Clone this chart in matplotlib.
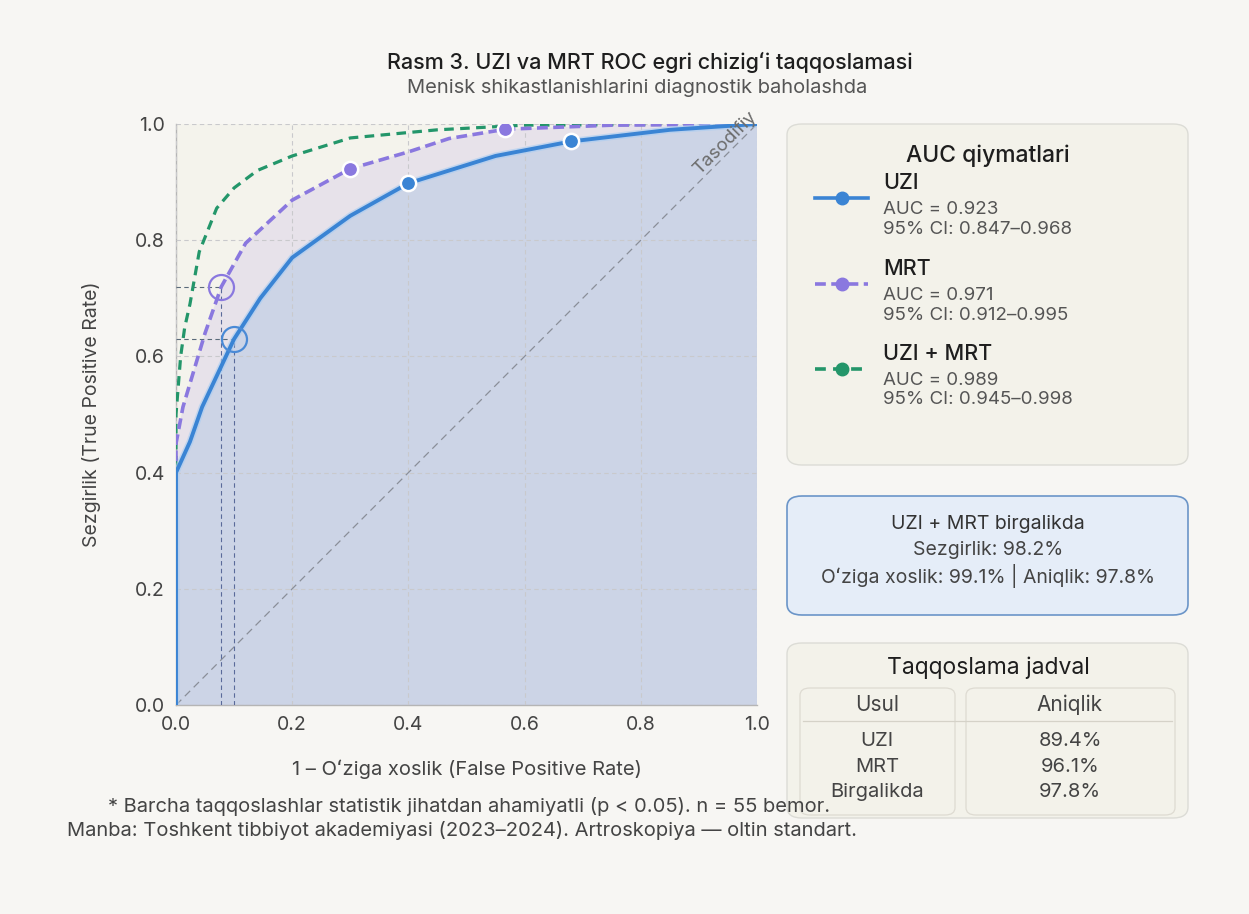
import numpy as np
import matplotlib
matplotlib.use("Agg")
import matplotlib.pyplot as plt
from matplotlib.patches import FancyBboxPatch
from matplotlib.lines import Line2D

plt.rcParams['font.family'] = ['Inter', 'DejaVu Sans']

# ROC egri chiziqlari (rasmdan o'qilgan qiymatlar)
uzi_fpr = [0, 0, 0.024, 0.045, 0.10, 0.145, 0.20, 0.30, 0.40, 0.55, 0.68, 0.85, 1.0]
uzi_tpr = [0, 0.40, 0.453, 0.513, 0.63, 0.70, 0.77, 0.842, 0.898, 0.945, 0.97, 0.99, 1.0]
mrt_fpr = [0, 0, 0.012, 0.05, 0.078, 0.12, 0.20, 0.30, 0.40, 0.47, 0.567, 0.75, 1.0]
mrt_tpr = [0, 0.45, 0.513, 0.64, 0.72, 0.795, 0.869, 0.923, 0.952, 0.975, 0.991, 0.998, 1.0]
comb_fpr = [0, 0, 0.008, 0.015, 0.024, 0.04, 0.07, 0.10, 0.14, 0.20, 0.30, 0.45, 0.60, 1.0]
comb_tpr = [0, 0.50, 0.60, 0.65, 0.69, 0.78, 0.855, 0.89, 0.92, 0.945, 0.976, 0.99, 0.998, 1.0]

# belgilangan nuqtalar
uzi_mark_x = [0.40, 0.68]
uzi_mark_y = [0.898, 0.97]
mrt_mark_x = [0.30, 0.567]
mrt_mark_y = [0.923, 0.991]
# optimal kesish nuqtalari
uzi_opt = (0.10, 0.63)
mrt_opt = (0.078, 0.72)

series = [
    ("UZI", "0.923", "0.847\u20130.968", "#3a84d4", "-"),
    ("MRT", "0.971", "0.912\u20130.995", "#8a78df", (0, (3, 1.5))),
    ("UZI + MRT", "0.989", "0.945\u20130.998", "#23966a", (0, (3, 2))),
]

table_methods = ["UZI", "MRT", "Birgalikda"]
table_acc = ["89.4%", "96.1%", "97.8%"]

W, H = 1249, 914
fig = plt.figure(figsize=(W / 100, H / 100), dpi=100, facecolor="#f7f6f3")

def fx(px):
    return px / W

def fy(py):
    return 1 - py / H

ax = fig.add_axes([fx(176), fy(705), fx(757) - fx(176), fy(124) - fy(705)])
ax.set_facecolor("#f4f3ec")

# to'ldirilgan sohalar
ax.fill(uzi_fpr + [1.0, 0.0], uzi_tpr + [0.0, 0.0], color="#ccd4e6", zorder=1, lw=0)
ax.fill(mrt_fpr + uzi_fpr[::-1], mrt_tpr + uzi_tpr[::-1], color="#e7e2ea", zorder=1, lw=0)

ax.grid(True, ls=(0, (4, 3)), color="#c9c9cc", lw=0.8, zorder=2)
ax.set_axisbelow(False)

# tasodifiy chiziq
ax.plot([0, 1], [0, 1], ls=(0, (6, 4)), color="#8a8f99", lw=0.9, zorder=3)
ax.text(0.945, 0.968, "Tasodifiy", rotation=45, ha="center", va="center",
        fontsize=13.5, color="#6d6d6d", clip_on=False, zorder=6)

# optimal nuqtalar uchun yordamchi chiziqlar
for (ox, oy) in [uzi_opt, mrt_opt]:
    ax.plot([ox, ox], [0, oy], ls=(0, (4, 3)), color="#5a6a9a", lw=0.8, zorder=3)
    ax.plot([0, ox], [oy, oy], ls=(0, (4, 3)), color="#5a6a7a", lw=0.8, zorder=3)

ax.plot(comb_fpr, comb_tpr, color=series[2][3], ls=series[2][4], lw=2.3, zorder=4)
ax.plot(mrt_fpr, mrt_tpr, color=series[1][3], ls=series[1][4], lw=2.6, zorder=4)
ax.plot(uzi_fpr, uzi_tpr, color="#a9cdf2", lw=5, alpha=0.6, zorder=4)
ax.plot(uzi_fpr, uzi_tpr, color=series[0][3], lw=2.8, zorder=4)

ax.plot(uzi_mark_x, uzi_mark_y, "o", ms=11, mfc=series[0][3], mec="white", mew=1.8, zorder=5)
ax.plot(mrt_mark_x, mrt_mark_y, "o", ms=11, mfc=series[1][3], mec="white", mew=1.8, zorder=5)
ax.plot(*uzi_opt, "o", ms=18, mfc="none", mec="#4a8ad6", mew=1.6, zorder=5)
ax.plot(*mrt_opt, "o", ms=18, mfc="none", mec="#8a78df", mew=1.6, zorder=5)

ax.set_xlim(0, 1)
ax.set_ylim(0, 1)
ticks = [0, 0.2, 0.4, 0.6, 0.8, 1.0]
ax.set_xticks(ticks)
ax.set_yticks(ticks)
ax.set_xticklabels([f"{t:.1f}" for t in ticks])
ax.set_yticklabels([f"{t:.1f}" for t in ticks])
ax.tick_params(labelsize=14, colors="#444444", length=0, pad=8)
for s in ["top", "right"]:
    ax.spines[s].set_visible(False)
for s in ["left", "bottom"]:
    ax.spines[s].set_color("#b5b5b5")
    ax.spines[s].set_linewidth(1.0)

ax.set_xlabel("1 \u2013 O\u02bbziga xoslik (False Positive Rate)", fontsize=14.5,
              color="#444444", labelpad=18)
ax.set_ylabel("Sezgirlik (True Positive Rate)", fontsize=14, color="#444444", labelpad=24)

# sarlavha
fig.text(fx(650), fy(62), "Rasm 3. UZI va MRT ROC egri chizig\u02bbi taqqoslamasi",
         ha="center", va="center", fontsize=15.5, color="#1e1e1e", fontweight="medium")
fig.text(fx(637), fy(88), "Menisk shikastlanishlarini diagnostik baholashda",
         ha="center", va="center", fontsize=14.5, color="#555555")

# izohlar
fig.text(fx(469), fy(807),
         "* Barcha taqqoslashlar statistik jihatdan ahamiyatli (p < 0.05). n = 55 bemor.",
         ha="center", va="center", fontsize=14.5, color="#444444")
fig.text(fx(462), fy(831),
         "Manba: Toshkent tibbiyot akademiyasi (2023\u20132024). Artroskopiya \u2014 oltin standart.",
         ha="center", va="center", fontsize=14.5, color="#444444")

def panel(x0, y0, x1, y1, fc, ec, lw=1.0):
    p = FancyBboxPatch((fx(x0), fy(y1)), fx(x1) - fx(x0), fy(y0) - fy(y1),
                       boxstyle="round,pad=0,rounding_size=0.012",
                       transform=fig.transFigure, fc=fc, ec=ec, lw=lw, zorder=0)
    fig.add_artist(p)

# AUC paneli
panel(787, 124, 1188, 465, "#f3f2ea", "#dcdcd6")
fig.text(fx(988), fy(156), "AUC qiymatlari", ha="center", va="center",
         fontsize=16.5, color="#1e1e1e", fontweight="medium")
rows_y = [198, 284, 369]
for (name, auc, ci, col, ls), ry in zip(series, rows_y):
    fig.add_artist(Line2D([fx(815), fx(868)], [fy(ry), fy(ry)], color=col, ls=ls,
                          lw=2.6, transform=fig.transFigure))
    fig.add_artist(Line2D([fx(842)], [fy(ry)], marker="o", ms=9, mfc=col, mec=col,
                          transform=fig.transFigure))
    fig.text(fx(883), fy(ry - 15), name, ha="left", va="center", fontsize=15.5,
             color="#1e1e1e", fontweight="medium")
    fig.text(fx(883), fy(ry + 12), f"AUC = {auc}", ha="left", va="center",
             fontsize=13.5, color="#555555")
    fig.text(fx(883), fy(ry + 31), f"95% CI: {ci}", ha="left", va="center",
             fontsize=13.5, color="#555555")

# birgalikda paneli
panel(787, 496, 1188, 615, "#e5edf8", "#6b95c8", lw=1.2)
fig.text(fx(988), fy(524), "UZI + MRT birgalikda", ha="center", va="center",
         fontsize=14, color="#333333")
fig.text(fx(988), fy(550), "Sezgirlik: 98.2%", ha="center", va="center",
         fontsize=14, color="#444444")
fig.text(fx(988), fy(576), "O\u02bbziga xoslik: 99.1% | Aniqlik: 97.8%", ha="center",
         va="center", fontsize=14, color="#444444")

# taqqoslama jadvali
panel(787, 643, 1188, 818, "#f3f2ea", "#dcdcd6")
fig.text(fx(988), fy(668), "Taqqoslama jadval", ha="center", va="center",
         fontsize=16.5, color="#1e1e1e")
for cx0, cx1 in [(800, 955), (966, 1175)]:
    p = FancyBboxPatch((fx(cx0), fy(815)), fx(cx1) - fx(cx0), fy(688) - fy(815),
                       boxstyle="round,pad=0,rounding_size=0.008",
                       transform=fig.transFigure, fc="none", ec="#dedbd2", lw=0.9)
    fig.add_artist(p)
fig.add_artist(Line2D([fx(803), fx(1172)], [fy(721), fy(721)], color="#d5d2c8",
                      lw=0.9, transform=fig.transFigure))
fig.text(fx(877), fy(705), "Usul", ha="center", va="center", fontsize=15, color="#444444")
fig.text(fx(1070), fy(705), "Aniqlik", ha="center", va="center", fontsize=15, color="#444444")
for i, (m, a) in enumerate(zip(table_methods, table_acc)):
    yy = 741 + i * 25.5
    fig.text(fx(877), fy(yy), m, ha="center", va="center", fontsize=14.5, color="#444444")
    fig.text(fx(1070), fy(yy), a, ha="center", va="center", fontsize=14.5, color="#444444")

fig.savefig("out.png", dpi=100, facecolor=fig.get_facecolor())
